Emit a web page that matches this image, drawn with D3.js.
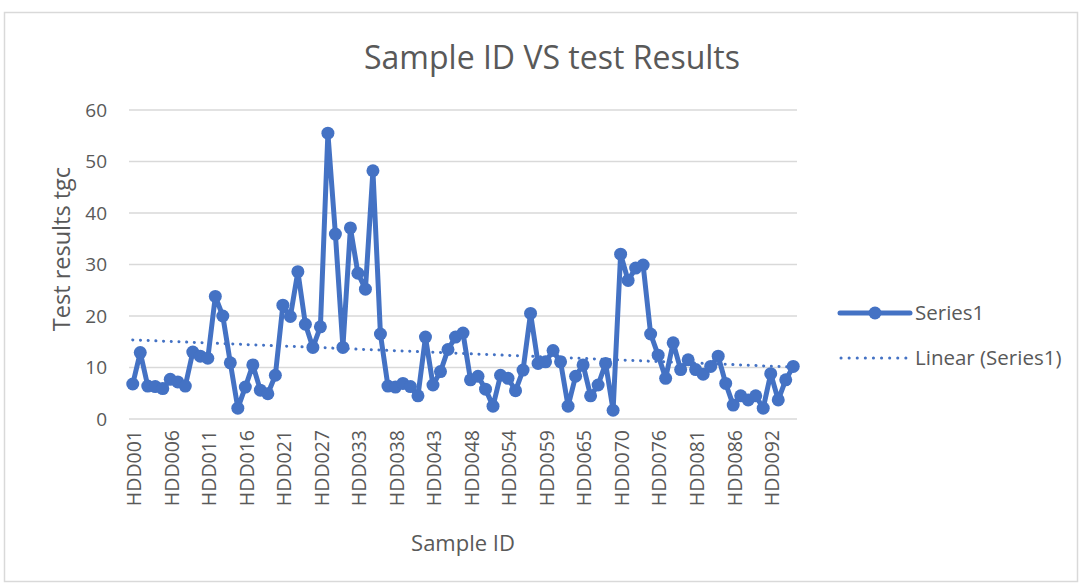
<!DOCTYPE html>
<html>
<head>
<meta charset="utf-8">
<script src="https://cdn.jsdelivr.net/npm/d3@7"></script>
<style>
  body { margin: 0; background: #fff; }
  svg { display: block; }
  text { font-family: "Open Sans", "Noto Sans", sans-serif; fill: #595959; }
</style>
</head>
<body>
<svg id="chart" width="1081" height="585"></svg>
<script>
// sample ids (some numbers are missing in the sheet)
const sampleIds = [
  "HDD001","HDD002","HDD003","HDD004","HDD005","HDD006","HDD007","HDD008","HDD009","HDD010",
  "HDD011","HDD012","HDD013","HDD014","HDD015","HDD016","HDD017","HDD018","HDD019","HDD020",
  "HDD021","HDD022","HDD023","HDD025","HDD026","HDD027","HDD028","HDD029","HDD031","HDD032",
  "HDD033","HDD034","HDD035","HDD036","HDD037","HDD038","HDD039","HDD040","HDD041","HDD042",
  "HDD043","HDD044","HDD045","HDD046","HDD047","HDD048","HDD049","HDD050","HDD052","HDD053",
  "HDD054","HDD055","HDD056","HDD057","HDD058","HDD059","HDD060","HDD061","HDD063","HDD064",
  "HDD065","HDD066","HDD067","HDD068","HDD069","HDD070","HDD071","HDD072","HDD074","HDD075",
  "HDD076","HDD077","HDD078","HDD079","HDD080","HDD081","HDD082","HDD083","HDD084","HDD085",
  "HDD086","HDD087","HDD088","HDD090","HDD091","HDD092","HDD093","HDD094","HDD095"
];

// test results tgc
const series1 = [
  6.8, 12.9, 6.4, 6.3, 5.9, 7.7, 7.2, 6.4, 13.0, 12.2,
  11.8, 23.8, 20.0, 10.9, 2.1, 6.2, 10.5, 5.6, 4.9, 8.5,
  22.1, 19.9, 28.6, 18.4, 13.9, 17.9, 55.5, 35.9, 13.9, 37.1,
  28.3, 25.2, 48.2, 16.5, 6.4, 6.2, 6.9, 6.3, 4.5, 15.9,
  6.6, 9.2, 13.5, 15.9, 16.7, 7.6, 8.3, 5.8, 2.5, 8.5,
  7.9, 5.5, 9.5, 20.5, 10.8, 11.1, 13.3, 11.1, 2.5, 8.3,
  10.5, 4.5, 6.6, 10.8, 1.7, 32.0, 26.9, 29.3, 29.9, 16.5,
  12.4, 7.9, 14.8, 9.6, 11.5, 9.6, 8.7, 10.2, 12.2, 6.9,
  2.7, 4.5, 3.7, 4.5, 2.1, 8.8, 3.7, 7.6, 10.2
];

const yTicks = [0, 10, 20, 30, 40, 50, 60];

const blue = "#4472c4";
const grid = "#d9d9d9";

const svg = d3.select("#chart");

// outer chart border
svg.append("rect")
   .attr("x", 4.5).attr("y", 12.5)
   .attr("width", 1073).attr("height", 569)
   .attr("fill", "#fff")
   .attr("stroke", grid)
   .attr("stroke-width", 1.5);

const plot = {left: 129, right: 797, top: 110, bottom: 419};

const x = d3.scalePoint()
   .domain(sampleIds)
   .range([plot.left, plot.right])
   .padding(0.5);

const y = d3.scaleLinear()
   .domain([0, 60])
   .range([plot.bottom, plot.top]);

// gridlines
svg.append("g")
   .selectAll("line")
   .data(yTicks)
   .enter()
   .append("line")
   .attr("x1", plot.left).attr("x2", plot.right)
   .attr("y1", d => y(d)).attr("y2", d => y(d))
   .attr("stroke", grid)
   .attr("stroke-width", 1.5);

// y axis labels
const yAxis = svg.append("g")
   .attr("transform", `translate(${plot.left - 22},0)`)
   .call(d3.axisLeft(y).tickValues(yTicks).tickSize(0).tickPadding(0));
yAxis.select(".domain").remove();
yAxis.selectAll("text")
   .style("font-size", "19px")
   .style("font-family", "'Open Sans', sans-serif")
   .attr("fill", "#595959");

// x axis labels, every 5th category
const xAxis = svg.append("g")
   .attr("transform", `translate(0,${plot.bottom})`)
   .call(d3.axisBottom(x)
     .tickValues(sampleIds.filter((d, i) => i % 5 === 0))
     .tickSize(0));
xAxis.select(".domain").remove();
xAxis.selectAll("text")
   .attr("transform", "rotate(-90)")
   .attr("text-anchor", "end")
   .attr("x", -11)
   .attr("y", 1)
   .attr("dy", "0.35em")
   .style("font-size", "19.5px")
   .style("font-family", "'Open Sans', sans-serif")
   .attr("fill", "#595959");

// linear trendline (least squares on the series, like excel)
const n = series1.length;
const xs = d3.range(1, n + 1);
const mx = d3.mean(xs), my = d3.mean(series1);
const slope = d3.sum(xs, (v, i) => (v - mx) * (series1[i] - my)) / d3.sum(xs, v => (v - mx) * (v - mx));
const intercept = my - slope * mx;

svg.append("line")
   .attr("x1", x(sampleIds[0])).attr("x2", x(sampleIds[n - 1]))
   .attr("y1", y(intercept + slope * 1))
   .attr("y2", y(intercept + slope * n))
   .attr("stroke", blue)
   .attr("stroke-width", 3)
   .attr("stroke-linecap", "round")
   .attr("stroke-dasharray", "0.1,7.6");

// series line + markers
const line = d3.line()
   .x((d, i) => x(sampleIds[i]))
   .y(d => y(d));

svg.append("path")
   .datum(series1)
   .attr("d", line)
   .attr("fill", "none")
   .attr("stroke", blue)
   .attr("stroke-width", 5)
   .attr("stroke-linejoin", "round");

svg.append("g")
   .selectAll("circle")
   .data(series1)
   .enter()
   .append("circle")
   .attr("cx", (d, i) => x(sampleIds[i]))
   .attr("cy", d => y(d))
   .attr("r", 6.5)
   .attr("fill", blue);

// titles
svg.append("text")
   .attr("x", 552).attr("y", 69)
   .attr("text-anchor", "middle")
   .style("font-size", "32px")
   .text("Sample ID VS test Results");

svg.append("text")
   .attr("transform", "translate(70,249) rotate(-90)")
   .attr("text-anchor", "middle")
   .style("font-size", "23.5px")
   .text("Test results tgc");

svg.append("text")
   .attr("x", 463).attr("y", 551)
   .attr("text-anchor", "middle")
   .style("font-size", "22px")
   .text("Sample ID");

// legend
const legend = svg.append("g");
legend.append("line")
   .attr("x1", 840).attr("x2", 910)
   .attr("y1", 313).attr("y2", 313)
   .attr("stroke", blue).attr("stroke-width", 5)
   .attr("stroke-linecap", "round");
legend.append("circle")
   .attr("cx", 875).attr("cy", 313).attr("r", 6.5)
   .attr("fill", blue);
legend.append("text")
   .attr("x", 915).attr("y", 313)
   .attr("dy", "0.35em")
   .style("font-size", "20.5px")
   .text("Series1");

legend.append("line")
   .attr("x1", 841).attr("x2", 906)
   .attr("y1", 358).attr("y2", 358)
   .attr("stroke", blue).attr("stroke-width", 3)
   .attr("stroke-linecap", "round")
   .attr("stroke-dasharray", "0.1,8");
legend.append("text")
   .attr("x", 915).attr("y", 358)
   .attr("dy", "0.35em")
   .style("font-size", "20.5px")
   .text("Linear (Series1)");
</script>
</body>
</html>
